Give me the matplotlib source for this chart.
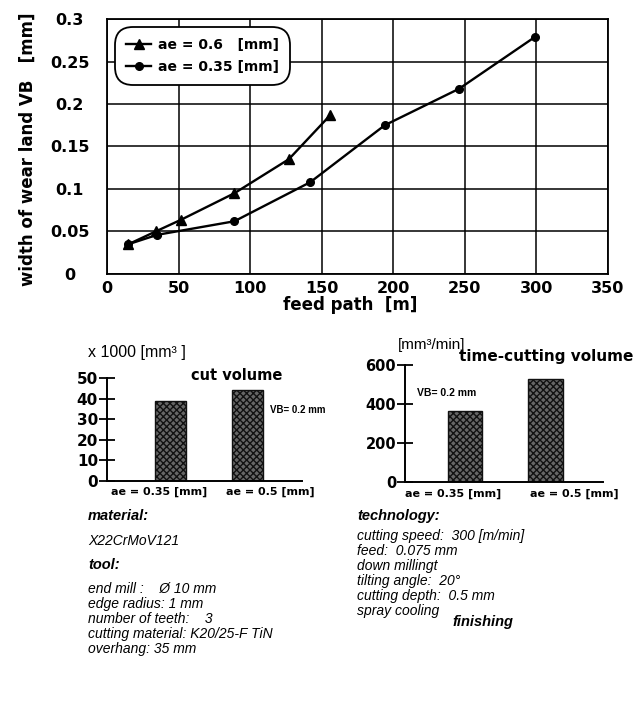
import numpy as np
import matplotlib.pyplot as plt

plt.rcParams['font.family'] = ['Liberation Sans', 'DejaVu Sans']
HEAVY = 'DejaVu Sans'   # wide bold face, closer to the heavy scanned labels

# wear land over feed path
path_06 = [15, 34, 52, 89, 127, 156]
vb_06 = [0.035, 0.050, 0.064, 0.095, 0.135, 0.187]
path_035 = [15, 35, 89, 142, 194, 246, 299]
vb_035 = [0.035, 0.046, 0.062, 0.108, 0.175, 0.218, 0.279]

# bar charts
bar_labels = ['ae = 0.35 [mm]', 'ae = 0.5 [mm]']
cut_volume = [39, 44]          # x 1000 mm^3
time_volume = [365, 530]       # mm^3/min

fig = plt.figure(figsize=(6.37, 7.06), dpi=100)

ax = fig.add_axes([0.168, 0.612, 0.7865, 0.361])
ax.plot(path_06, vb_06, color='black', lw=1.7, marker='^', ms=6.5, label='ae = 0.6   [mm]')
ax.plot(path_035, vb_035, color='black', lw=1.7, marker='o', ms=5.5, label='ae = 0.35 [mm]')
ax.set_xlim(0, 350)
ax.set_ylim(0, 0.3)
ax.set_xticks(np.arange(0, 351, 50))
ax.set_yticks([0, 0.05, 0.1, 0.15, 0.2, 0.25, 0.3])
ax.set_yticklabels(['0', '0.05', '0.1', '0.15', '0.2', '0.25', '0.3'])
ax.grid(True, color='black', lw=1.1)
for s in ax.spines.values():
    s.set_linewidth(1.3)
ax.tick_params(axis='x', length=0, labelsize=11.5, pad=5)
ax.tick_params(axis='y', length=0, labelsize=11.5, pad=27)
for t in ax.get_xticklabels() + ax.get_yticklabels():
    t.set_fontweight('bold')
    t.set_family(HEAVY)
for t in ax.get_yticklabels():
    t.set_ha('center')
ax.set_xlabel('feed path  [m]', fontsize=12, fontweight='bold', family=HEAVY)
ax.xaxis.set_label_coords(0.485, -0.085)
ax.set_ylabel('width of wear land VB   [mm]', fontsize=12, fontweight='bold', family=HEAVY)
ax.yaxis.set_label_coords(-0.14, 0.49)
leg = ax.legend(loc='upper left', bbox_to_anchor=(0.008, 0.985),
                prop={'weight': 'bold', 'size': 10, 'family': HEAVY}, handlelength=1.8,
                handletextpad=0.5, fancybox=True, framealpha=1, edgecolor='black',
                borderpad=0.6, labelspacing=0.55)
leg.get_frame().set_boxstyle('round,pad=0.2,rounding_size=1.3')
leg.get_frame().set_linewidth(1.3)


def bar_axes(rect, values, xlim, width, yticks, ylim, tsize, label_dx):
    a = fig.add_axes(rect)
    x = np.arange(len(values))
    a.bar(x, values, width=width, facecolor='#666666', edgecolor='#111111',
          hatch='xxxxx', lw=1.0)
    a.set_xlim(*xlim)
    a.set_ylim(*ylim)
    a.set_yticks(yticks)
    a.set_xticks([])
    a.spines['top'].set_visible(False)
    a.spines['right'].set_visible(False)
    a.spines['left'].set_linewidth(1.4)
    a.spines['bottom'].set_linewidth(1.4)
    a.tick_params(axis='y', direction='inout', length=11, width=1.3, labelsize=tsize, pad=1)
    for t in a.get_yticklabels():
        t.set_fontweight('bold')
        t.set_family(HEAVY)
    for xi, lab, dx in zip(x, bar_labels, label_dx):
        a.text(xi + dx, -0.06, lab, transform=a.get_xaxis_transform(), ha='center',
               va='top', fontsize=8, fontweight='bold', family=HEAVY)
    return a


b1 = bar_axes([0.168, 0.3187, 0.306, 0.1459], cut_volume, (-0.825, 1.708), 0.40,
              np.arange(0, 51, 10), (0, 50), 11, [-0.15, 0.3])
b1.text(-0.097, 1.25, 'x 1000 [mm³ ]', transform=b1.transAxes, fontsize=11.5,
        ha='left', va='center')
b1.text(0.667, 1.02, 'cut volume', transform=b1.transAxes, fontsize=10.5, fontweight='bold',
        family=HEAVY, ha='center', va='center')
b1.text(0.836, 0.69, 'VB= 0.2 mm', transform=b1.transAxes, fontsize=7, fontweight='bold',
        ha='left', va='center')

b2 = bar_axes([0.636, 0.3173, 0.311, 0.1657], time_volume, (-0.745, 1.714), 0.43,
              np.arange(0, 601, 200), (0, 600), 10.5, [-0.15, 0.35])
b2.text(-0.035, 1.17, '[mm³/min]', transform=b2.transAxes, fontsize=11,
        ha='left', va='center')
b2.text(0.27, 1.07, 'time-cutting volume', transform=b2.transAxes, fontsize=11,
        fontweight='bold', family=HEAVY, ha='left', va='center')
b2.text(0.06, 0.76, 'VB= 0.2 mm', transform=b2.transAxes, fontsize=7.5, fontweight='bold',
        ha='left', va='center')


# description texts
def ftxt(x, y, s, bold=False, size=10):
    fig.text(x / 637, 1 - y / 706, s, fontsize=size, style='italic',
             fontweight='bold' if bold else 'normal', ha='left', va='center')


ftxt(88, 516, 'material:', bold=True, size=10.5)
ftxt(88, 541, 'X22CrMoV121')
ftxt(88, 565, 'tool:', bold=True, size=10.5)
tool_lines = ['end mill :    Ø 10 mm', 'edge radius: 1 mm', 'number of teeth:    3',
              'cutting material: K20/25-F TiN', 'overhang: 35 mm']
for i, s in enumerate(tool_lines):
    ftxt(88, 589 + 15 * i, s)

ftxt(357, 516, 'technology:', bold=True, size=10.5)
tech_lines = ['cutting speed:  300 [m/min]', 'feed:  0.075 mm', 'down millingt',
              'tilting angle:  20°', 'cutting depth:  0.5 mm', 'spray cooling']
for i, s in enumerate(tech_lines):
    ftxt(357, 536 + 15 * i, s)
ftxt(452, 622, 'finishing', bold=True, size=10.5)

fig.savefig('out.png', dpi=100)
